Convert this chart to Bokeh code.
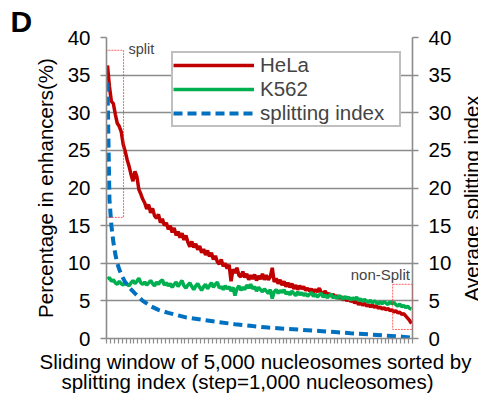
import math
from bokeh.plotting import figure
from bokeh.layouts import row, column
from bokeh.models import (LinearAxis, Range1d, FixedTicker, Legend, LegendItem,
                          Label, BoxAnnotation, Grid, Title)
from bokeh.core.properties import value
from bokeh.embed import file_html
from bokeh.resources import INLINE

# ---------------- data ----------------
window_index = list(range(156))

hela = [
    36.3, 33.5, 31.5, 31.2, 29.8, 28.6, 28.2, 27.5, 25.8, 24.9,
    23.8, 22.9, 21.8, 20.9, 22.2, 21.5, 19.8, 19.2, 18.5, 18.0,
    17.2, 17.8, 16.7, 17.3, 16.3, 16.0, 16.5, 15.4, 15.9, 15.0,
    15.4, 14.5, 15.0, 14.1, 14.7, 13.7, 14.2, 13.4, 14.0, 13.1,
    13.7, 12.8, 12.2, 12.9, 12.1, 12.6, 11.8, 12.3, 11.4, 11.9,
    11.1, 11.7, 10.9, 11.4, 10.5, 11.0, 10.2, 9.9, 10.5, 9.6,
    10.0, 9.3, 9.8, 7.6, 9.2, 8.7, 9.4, 8.4, 8.2, 8.9,
    8.1, 8.6, 7.8, 8.4, 7.9, 8.5, 7.7, 8.3, 7.9, 8.6,
    7.8, 8.4, 7.8, 8.2, 9.4, 7.5, 8.0, 7.3, 7.8, 7.1,
    7.6, 6.9, 7.4, 6.8, 7.3, 6.6, 7.1, 6.5, 7.0, 6.6,
    6.9, 6.4, 6.7, 6.3, 6.6, 6.2, 6.5, 6.2, 6.7, 6.1,
    6.0, 6.3, 5.8, 6.0, 5.6, 5.9, 5.5, 5.7, 5.3, 5.6,
    5.1, 5.4, 5.0, 5.3, 4.9, 5.1, 4.7, 5.0, 4.5, 4.8,
    4.4, 4.7, 4.3, 4.5, 4.2, 4.5, 4.1, 4.4, 4.0, 4.2,
    3.9, 4.1, 3.8, 4.0, 3.7, 3.8, 3.5, 3.7, 3.4, 3.5,
    3.2, 3.3, 3.0, 2.7, 2.4, 2.0,
]

k562 = [
    7.9, 8.1, 7.6, 7.8, 7.4, 7.2, 7.6, 7.3, 7.1, 7.5,
    7.2, 7.0, 7.4, 7.7, 7.3, 7.6, 8.0, 7.4, 7.2, 7.5,
    7.1, 7.4, 7.7, 7.3, 7.0, 7.5, 7.2, 7.6, 7.8, 7.1,
    7.4, 7.0, 7.3, 6.8, 7.2, 7.5, 6.9, 7.3, 7.7, 7.0,
    6.7, 7.1, 7.4, 6.9, 6.5, 7.0, 7.3, 6.8, 6.4, 6.9,
    7.2, 6.6, 7.0, 7.4, 6.8, 7.2, 7.5, 6.7, 6.9, 6.5,
    7.0, 6.6, 6.9, 6.3, 6.8, 5.7, 6.6, 7.0, 6.4, 6.8,
    6.5, 7.1, 6.7, 7.2, 6.6, 6.9, 6.3, 6.8, 6.5, 6.2,
    6.6, 6.3, 6.0, 6.5, 5.3, 6.2, 6.5, 6.0, 6.4, 6.1,
    6.5, 5.9, 6.2, 5.8, 6.3, 6.0, 5.7, 6.2, 5.8, 6.1,
    5.7, 6.0, 5.6, 5.9, 6.1, 5.6, 5.9, 5.5, 5.8, 6.0,
    5.5, 5.8, 5.4, 5.7, 5.9, 5.4, 5.6, 5.3, 5.7, 5.5,
    5.2, 5.6, 5.3, 5.5, 5.1, 5.4, 5.2, 5.5, 5.0, 5.3,
    4.9, 5.2, 5.0, 4.8, 5.1, 4.7, 5.0, 4.8, 4.6, 4.9,
    4.6, 4.9, 4.7, 4.5, 4.9, 4.6, 4.8, 4.5, 4.3, 4.6,
    4.2, 4.4, 4.1, 4.3, 4.0, 3.9,
]

split_index_x = [0, 1, 2, 3, 4, 5, 6, 7, 9, 11, 14, 18, 22, 26, 31, 40, 48, 56,
                 65, 74, 82, 90, 99, 108, 116, 124, 133, 141, 150, 155]
split_index = [34.0, 18.5, 15.0, 12.8, 11.2, 10.0, 9.2, 8.5, 7.5, 6.8, 6.0, 5.0,
               4.3, 3.8, 3.4, 2.8, 2.5, 2.2, 1.9, 1.65, 1.45, 1.3, 1.15, 1.0,
               0.85, 0.7, 0.55, 0.4, 0.25, 0.1]

y_ticks = [0, 5, 10, 15, 20, 25, 30, 35, 40]
x_ticks = [-0.5 + 2 * k for k in range(79)]

series_names = ["HeLa", "K562", "splitting index"]
x_title_lines = ["Sliding window of 5,000 nucleosomes sorted by",
                 "splitting index (step=1,000 nucleosomes)"]
y_title_left = "Percentage in enhancers(%)"
y_title_right = "Average splitting index"

# ---------------- styling ----------------
FONT = "Liberation Sans"
GRAY = "#8c8c8c"
RED = "#C00000"
GREEN = "#00B050"
BLUE = "#0070C0"
BIG = "20.5px"

MAIN_H = 349

# main plot: canvas x 0..460, y 0..349 (frame 106..412 x 37..338)
p = figure(width=460, height=MAIN_H, output_backend="svg", toolbar_location=None,
           x_range=Range1d(-0.5, 155.5), y_range=Range1d(0, 40),
           x_axis_location=None, y_axis_location=None,
           min_border_left=106, min_border_right=48,
           min_border_top=37, min_border_bottom=MAIN_H - 338)
p.outline_line_color = None
p.background_fill_color = "white"
for g in p.grid:
    g.visible = False

p.title = Title(text="D", align="left", offset=-96, text_font=FONT,
                text_font_size="30px", text_font_style="bold",
                text_color="black", standoff=0)

p.add_layout(Grid(dimension=1, ticker=FixedTicker(ticks=y_ticks),
                  grid_line_color=GRAY, grid_line_width=1.6))


def style_y(ax, label_standoff, tick_standoff):
    ax.axis_line_color = GRAY
    ax.axis_line_width = 1.6
    ax.major_tick_line_color = GRAY
    ax.major_tick_line_width = 1.6
    ax.major_tick_out = 6
    ax.major_tick_in = 0
    ax.minor_tick_line_color = None
    ax.major_label_text_font = FONT
    ax.major_label_text_font_size = BIG
    ax.major_label_text_color = "black"
    ax.major_label_standoff = tick_standoff
    ax.axis_label_text_font = FONT
    ax.axis_label_text_font_size = BIG
    ax.axis_label_text_font_style = "normal"
    ax.axis_label_text_color = "black"
    ax.axis_label_standoff = label_standoff


left = LinearAxis(ticker=FixedTicker(ticks=y_ticks), axis_label=y_title_left)
style_y(left, 8, 10)
p.add_layout(left, "left")

right = LinearAxis(ticker=FixedTicker(ticks=y_ticks))
style_y(right, 0, 10)
p.add_layout(right, "right")

below = LinearAxis(ticker=FixedTicker(ticks=[], minor_ticks=x_ticks))
below.axis_line_color = GRAY
below.axis_line_width = 1.6
below.major_tick_line_color = None
below.minor_tick_line_color = GRAY
below.minor_tick_line_width = 1.2
below.minor_tick_out = 5
below.minor_tick_in = 0
below.major_label_standoff = 0
p.add_layout(below, "below")

r_hela = p.line(window_index, hela, line_color=RED, line_width=3.5)
r_k562 = p.line(window_index, k562, line_color=GREEN, line_width=3.5)
r_si = p.line(split_index_x, split_index, line_color=BLUE, line_width=4,
              line_dash="9 5")

legend = Legend(items=[LegendItem(label=series_names[0], renderers=[r_hela]),
                       LegendItem(label=series_names[1], renderers=[r_k562]),
                       LegendItem(label=series_names[2], renderers=[r_si])],
                location=(65, 211),
                label_text_font=FONT, label_text_font_size=BIG,
                glyph_width=81, glyph_height=20, label_height=20,
                label_width=139, spacing=0, padding=0, margin=0,
                label_standoff=6,
                border_line_color="#808080", border_line_width=2,
                background_fill_color="white", background_fill_alpha=1)
p.add_layout(legend)

# highlight boxes
p.add_layout(BoxAnnotation(left=-2.6, right=8.2, bottom=16.1, top=38.3,
                           fill_alpha=0, line_color="#ff2020", line_alpha=0.7,
                           line_width=1, line_dash="2 1"))
p.add_layout(BoxAnnotation(left=145.4, right=155.6, bottom=1.2, top=7.2,
                           fill_alpha=0, line_color="#ff2020", line_alpha=0.7,
                           line_width=1, line_dash="2 1"))

p.add_layout(Label(x=10.7, y=38.45, text="split", text_font=FONT,
                   text_font_size="14.5px", text_baseline="middle"))
p.add_layout(Label(x=124, y=8.55, text="non-Split", text_font=FONT,
                   text_font_size="15px", text_baseline="middle"))

# right-hand axis title, reading bottom-to-top, in a narrow strip (x 460..478)
side = figure(width=18, height=MAIN_H, output_backend="svg", toolbar_location=None,
              x_range=Range1d(0, 18), y_range=Range1d(0, MAIN_H),
              x_axis_location=None, y_axis_location=None, min_border=0)
side.outline_line_color = None
for g in side.grid:
    g.visible = False
side.text(x=[11], y=[MAIN_H - 186.5], text=[y_title_right], angle=math.pi / 2,
          text_align="center", text_baseline="middle",
          text_font=value(FONT), text_font_size=value(BIG), text_color="black")

# x-axis title, two centred lines, in a strip below (y 349..394)
BOT_H = 394 - MAIN_H
bottom = figure(width=478, height=BOT_H, output_backend="svg", toolbar_location=None,
                x_range=Range1d(0, 478), y_range=Range1d(0, BOT_H),
                x_axis_location=None, y_axis_location=None, min_border=0)
bottom.outline_line_color = None
for g in bottom.grid:
    g.visible = False
bottom.text(x=[255, 247], y=[33.2, 13.2], text=x_title_lines,
            text_align="center", text_baseline="middle",
            text_font=value(FONT), text_font_size=value(BIG), text_color="black")

layout = column(row(p, side, spacing=0), bottom, spacing=0)

open("out.html", "w").write(file_html(layout, INLINE))
